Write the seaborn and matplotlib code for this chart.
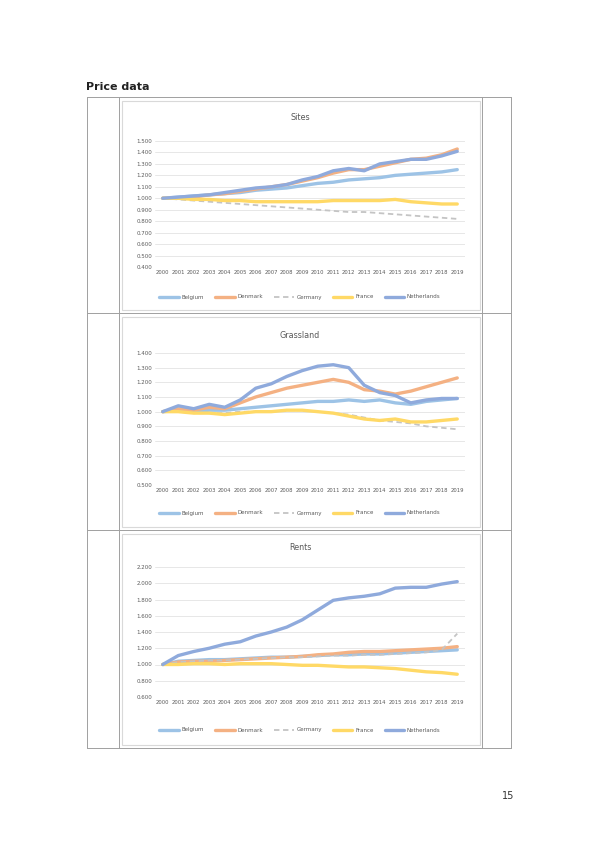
import matplotlib
matplotlib.use("Agg")
import matplotlib.pyplot as plt
import seaborn as sns
import pandas as pd
from matplotlib.patches import Rectangle
from matplotlib.lines import Line2D

sns.set_theme(style="white")
plt.rcParams['font.family'] = ['DejaVu Sans']

years = [str(y) for y in range(2000, 2020)]
series_names = ["Belgium", "Denmark", "Germany", "France", "Netherlands"]
colors = ["#9DC3E6", "#F4B183", "#C4C4C4", "#FFD966", "#8FAADC"]

heading = "Price data"
page_number = "15"

# Chart 1
title1 = "Sites"
c1_belgium = [1.00, 1.01, 1.02, 1.03, 1.04, 1.05, 1.07, 1.08, 1.09, 1.11, 1.13, 1.14, 1.16, 1.17, 1.18, 1.20, 1.21, 1.22, 1.23, 1.25]
c1_denmark = [1.00, 1.00, 1.01, 1.03, 1.04, 1.06, 1.08, 1.10, 1.12, 1.15, 1.18, 1.22, 1.25, 1.25, 1.28, 1.31, 1.34, 1.35, 1.38, 1.43]
c1_germany = [1.00, 0.99, 0.98, 0.97, 0.96, 0.95, 0.94, 0.93, 0.92, 0.91, 0.90, 0.89, 0.88, 0.88, 0.87, 0.86, 0.85, 0.84, 0.83, 0.82]
c1_france = [1.00, 1.00, 0.99, 0.99, 0.98, 0.98, 0.97, 0.97, 0.97, 0.97, 0.97, 0.98, 0.98, 0.98, 0.98, 0.99, 0.97, 0.96, 0.95, 0.95]
c1_netherlands = [1.00, 1.01, 1.02, 1.03, 1.05, 1.07, 1.09, 1.10, 1.12, 1.16, 1.19, 1.24, 1.26, 1.24, 1.30, 1.32, 1.34, 1.34, 1.37, 1.41]
ticks1 = [0.4, 0.5, 0.6, 0.7, 0.8, 0.9, 1.0, 1.1, 1.2, 1.3, 1.4, 1.5]

# Chart 2
title2 = "Grassland"
c2_belgium = [1.00, 1.01, 1.00, 1.01, 1.01, 1.02, 1.03, 1.04, 1.05, 1.06, 1.07, 1.07, 1.08, 1.07, 1.08, 1.06, 1.05, 1.07, 1.08, 1.09]
c2_denmark = [1.00, 1.02, 1.01, 1.03, 1.02, 1.06, 1.10, 1.13, 1.16, 1.18, 1.20, 1.22, 1.20, 1.15, 1.14, 1.12, 1.14, 1.17, 1.20, 1.23]
c2_germany = [1.00, 1.00, 0.99, 0.99, 0.99, 1.00, 1.00, 1.00, 1.01, 1.01, 1.00, 0.99, 0.98, 0.96, 0.94, 0.93, 0.92, 0.90, 0.89, 0.88]
c2_france = [1.00, 1.00, 0.99, 0.99, 0.98, 0.99, 1.00, 1.00, 1.01, 1.01, 1.00, 0.99, 0.97, 0.95, 0.94, 0.95, 0.93, 0.93, 0.94, 0.95]
c2_netherlands = [1.00, 1.04, 1.02, 1.05, 1.03, 1.08, 1.16, 1.19, 1.24, 1.28, 1.31, 1.32, 1.30, 1.18, 1.13, 1.11, 1.06, 1.08, 1.09, 1.09]
ticks2 = [0.5, 0.6, 0.7, 0.8, 0.9, 1.0, 1.1, 1.2, 1.3, 1.4]

# Chart 3
title3 = "Rents"
c3_belgium = [1.00, 1.04, 1.05, 1.06, 1.06, 1.07, 1.08, 1.09, 1.09, 1.10, 1.11, 1.12, 1.12, 1.13, 1.13, 1.14, 1.15, 1.16, 1.17, 1.18]
c3_denmark = [1.00, 1.03, 1.04, 1.04, 1.05, 1.06, 1.07, 1.08, 1.09, 1.10, 1.12, 1.13, 1.15, 1.16, 1.16, 1.17, 1.18, 1.19, 1.20, 1.22]
c3_germany = [1.00, 1.03, 1.04, 1.05, 1.05, 1.06, 1.07, 1.08, 1.09, 1.09, 1.10, 1.11, 1.11, 1.12, 1.12, 1.13, 1.14, 1.15, 1.18, 1.38]
c3_france = [1.00, 1.00, 1.01, 1.01, 1.00, 1.01, 1.01, 1.01, 1.00, 0.99, 0.99, 0.98, 0.97, 0.97, 0.96, 0.95, 0.93, 0.91, 0.90, 0.88]
c3_netherlands = [1.00, 1.11, 1.16, 1.20, 1.25, 1.28, 1.35, 1.40, 1.46, 1.55, 1.67, 1.79, 1.82, 1.84, 1.87, 1.94, 1.95, 1.95, 1.99, 2.02]
ticks3 = [0.6, 0.8, 1.0, 1.2, 1.4, 1.6, 1.8, 2.0, 2.2]

W, H = 595, 842
fig = plt.figure(figsize=(W / 100, H / 100), dpi=100)


def fx(x):
    return x / W


def fy(y):
    return 1 - y / H


# heading
fig.text(fx(86), fy(87), heading, fontsize=8, fontweight="bold", va="center", ha="left", color="#222222")
fig.text(fx(508), fy(796), page_number, fontsize=7, va="center", ha="center", color="#333333")

# table lines
tcol = "#A0A0A0"
for x in [87, 119, 482, 511]:
    fig.add_artist(Line2D([fx(x), fx(x)], [fy(97), fy(748)], color=tcol, lw=0.7, zorder=-10))
for y in [97, 313, 530, 748]:
    fig.add_artist(Line2D([fx(87), fx(511)], [fy(y), fy(y)], color=tcol, lw=0.7, zorder=-10))

charts = [
    dict(title=title1, data=[c1_belgium, c1_denmark, c1_germany, c1_france, c1_netherlands], ticks=ticks1,
         box=(101, 310), plot=(141, 267), ttl=117, xl=280, lg=297),
    dict(title=title2, data=[c2_belgium, c2_denmark, c2_germany, c2_france, c2_netherlands], ticks=ticks2,
         box=(317, 527), plot=(353, 485), ttl=335, xl=497, lg=513),
    dict(title=title3, data=[c3_belgium, c3_denmark, c3_germany, c3_france, c3_netherlands], ticks=ticks3,
         box=(534, 745), plot=(567, 697), ttl=547, xl=711, lg=730),
]

left, right = 155, 465
for ch in charts:
    b0, b1 = ch["box"]
    fig.add_artist(Rectangle((fx(122), fy(b1)), fx(480) - fx(122), fy(b0) - fy(b1),
                             transform=fig.transFigure, facecolor="none", edgecolor="#D9D9D9", lw=0.8,
                             zorder=-5))
    p0, p1 = ch["plot"]
    ax = fig.add_axes([fx(left), fy(p1), fx(right) - fx(left), fy(p0) - fy(p1)])
    ax.patch.set_alpha(0)
    rows = []
    for name, vals in zip(series_names, ch["data"]):
        for i, (yr, v) in enumerate(zip(years, vals)):
            rows.append({"idx": i, "year": yr, "series": name, "value": v})
    df = pd.DataFrame(rows)
    sns.lineplot(data=df, x="idx", y="value", hue="series", palette=colors, ax=ax,
                 linewidth=2.4, legend=False, sort=False)
    for line, name in zip(ax.lines, series_names):
        if name == "Germany":
            line.set_linewidth(1.3)
            line.set_linestyle((0, (3, 2)))
    ax.set_xlim(-0.5, len(years) - 0.5)
    t = ch["ticks"]
    ax.set_ylim(t[0], t[-1])
    ax.set_yticks(t)
    ax.set_yticklabels([f"{v:.3f}" for v in t], fontsize=4.0, color="#595959")
    ax.set_xticks(range(len(years)))
    ax.set_xticklabels(years, fontsize=3.8, color="#595959")
    ax.tick_params(axis="both", length=0, pad=2)
    ax.grid(axis="y", color="#E3E3E3", lw=0.6)
    ax.set_axisbelow(True)
    for s in ax.spines.values():
        s.set_visible(False)
    ax.set_xlabel("")
    ax.set_ylabel("")
    fig.text(fx(300), fy(ch["ttl"]), ch["title"], fontsize=5.8, ha="center", va="center", color="#595959")
    handles = [Line2D([0], [0], color=c, lw=2.4 if n != "Germany" else 1.3,
                      ls="-" if n != "Germany" else (0, (3, 2))) for n, c in zip(series_names, colors)]
    fig.legend(handles, series_names, loc="center", bbox_to_anchor=(fx(300), fy(ch["lg"])), ncol=5,
               frameon=False, fontsize=4.0, labelcolor="#595959", handlelength=3.5, columnspacing=2.0,
               handletextpad=0.5)

fig.savefig("out.png", dpi=100)
